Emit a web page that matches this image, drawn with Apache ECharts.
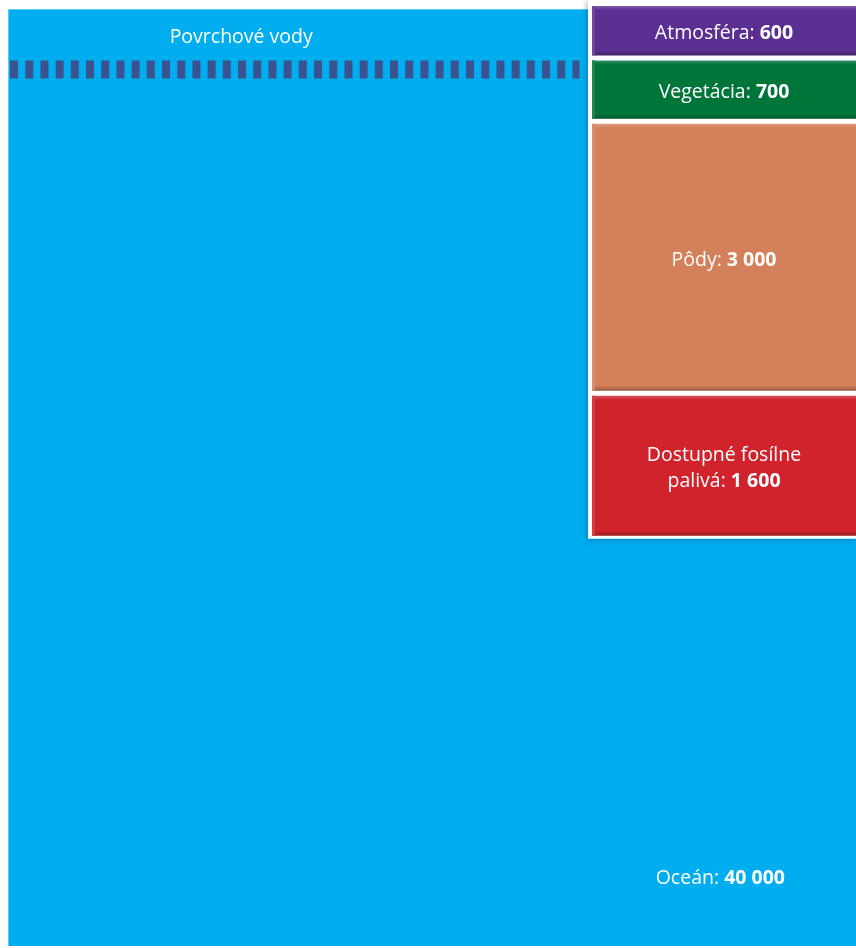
<!DOCTYPE html>
<html>
<head>
<meta charset="utf-8">
<script src="https://cdn.jsdelivr.net/npm/echarts@6/dist/echarts.min.js"></script>
<style>
  html, body { margin: 0; padding: 0; background: #ffffff; }
  #chart { width: 856px; height: 948px; }
</style>
</head>
<body>
<div id="chart"></div>
<script>
// Carbon stored in each reservoir (Gt C)
const reservoirNames = ['Atmosféra', 'Vegetácia', 'Pôdy', 'Dostupné fosílne\npalivá'];
const reservoirValues = [600, 700, 3000, 1600];
const reservoirColors = ['#5b2f91', '#00753a', '#d4805a', '#d0232b'];

const oceanName = 'Oceán';
const oceanValue = 40000;
const oceanColor = '#00aeef';

const surfaceName = 'Povrchové vody';
const surfaceColor = '#3b5291';

// Layout of the drawing in axis units
const X_MAX = 100;
const Y_MAX = 10370;        // vertical extent in Gt C
const COLUMN_X = 68.87;     // left edge of the reservoir column
const GAP = 5;              // white gap between stacked boxes (px)
const FONT = '"Open Sans", "Noto Sans", sans-serif';
const FONT_SIZE = 19.5;

function fmt(v) {
  return String(v).replace(/\B(?=(\d{3})+(?!\d))/g, ' ');
}

function mix(hex, target, t) {
  const a = parseInt(hex.slice(1), 16);
  const b = parseInt(target.slice(1), 16);
  const ch = (n, s) => (n >> s) & 255;
  const r = [16, 8, 0].map(s => Math.round(ch(a, s) + (ch(b, s) - ch(a, s)) * t));
  return 'rgb(' + r.join(',') + ')';
}

const richText = {
  n: { fontFamily: FONT, fontSize: FONT_SIZE, fontWeight: 'normal', fill: '#ffffff', lineHeight: 26 },
  v: { fontFamily: FONT, fontSize: FONT_SIZE, fontWeight: 'bold', fill: '#ffffff', lineHeight: 26 }
};

function labelRich(name, value) {
  const lines = name.split('\n');
  const last = lines.pop();
  const head = lines.map(l => '{n|' + l + '}').join('\n');
  return (head ? head + '\n' : '') + '{n|' + last + ': }{v|' + fmt(value) + '}';
}

// Stacked intervals, top to bottom
const stackData = [];
let acc = 0;
reservoirValues.forEach((v, i) => {
  stackData.push([acc, acc + v, i]);
  acc += v;
});
const stackTotal = acc;

function renderOcean(params, api) {
  const tl = api.coord([0, 0]);
  const br = api.coord([X_MAX, Y_MAX]);
  const label = api.coord([84, 9630]);
  return {
    type: 'group',
    children: [
      {
        type: 'rect',
        shape: { x: tl[0], y: tl[1] + 3, width: br[0] - tl[0], height: br[1] - tl[1] - 3 },
        style: { fill: oceanColor }
      },
      {
        type: 'rect',
        shape: { x: tl[0], y: tl[1] + 3, width: br[0] - tl[0], height: 1 },
        style: { fill: '#5ccbf3' }
      },
      {
        type: 'rect',
        shape: { x: tl[0], y: tl[1] + 3, width: 1, height: br[1] - tl[1] - 3 },
        style: { fill: '#5ccbf3' }
      },
      {
        type: 'text',
        x: label[0], y: label[1],
        style: {
          text: labelRich(oceanName, api.value(0)),
          rich: richText,
          align: 'center', verticalAlign: 'middle'
        }
      }
    ]
  };
}

function renderSurface(params, api) {
  const a = api.coord([0.24, 700]);
  const b = api.coord([67.4, 700]);
  const t = api.coord([27.5, 350]);
  return {
    type: 'group',
    children: [
      {
        type: 'line',
        shape: { x1: a[0], y1: a[1], x2: b[0], y2: b[1] },
        style: { stroke: surfaceColor, lineWidth: 18, lineDash: [8, 7.2] }
      },
      {
        type: 'text',
        x: t[0], y: t[1],
        style: {
          text: surfaceName,
          fontFamily: FONT, fontSize: FONT_SIZE, fill: '#ffffff',
          align: 'center', verticalAlign: 'middle'
        }
      }
    ]
  };
}

function renderColumnBack(params, api) {
  const tl = api.coord([COLUMN_X, 0]);
  const br = api.coord([X_MAX, api.value(0)]);
  return {
    type: 'rect',
    shape: { x: tl[0] - 4, y: 0, width: br[0] - tl[0] + 4, height: br[1] - 2 },
    style: {
      fill: '#ffffff',
      shadowBlur: 6, shadowColor: 'rgba(0, 40, 90, 0.35)', shadowOffsetX: -1, shadowOffsetY: 1
    }
  };
}

function renderBox(params, api) {
  const i = api.value(2);
  const p0 = api.coord([COLUMN_X, api.value(0)]);
  const p1 = api.coord([X_MAX, api.value(1)]);
  const x = p0[0], y = p0[1];
  const w = p1[0] - p0[0];
  const h = p1[1] - p0[1] - GAP;
  const base = reservoirColors[i];
  const top = 4 / h, bottom = 5 / h;
  return {
    type: 'group',
    children: [
      {
        type: 'rect',
        shape: { x: x, y: y, width: w, height: h },
        style: {
          fill: new echarts.graphic.LinearGradient(0, 0, 0, 1, [
            { offset: 0, color: mix(base, '#ffffff', 0.22) },
            { offset: top, color: base },
            { offset: 1 - bottom, color: base },
            { offset: 1, color: mix(base, '#000000', 0.3) }
          ])
        }
      },
      {
        type: 'rect',
        shape: { x: x, y: y, width: 3, height: h },
        style: { fill: mix(base, '#ffffff', 0.12) }
      },
      {
        type: 'text',
        x: x + w / 2, y: y + h / 2 + 3,
        style: {
          text: labelRich(reservoirNames[i], reservoirValues[i]),
          rich: richText,
          align: 'center', verticalAlign: 'middle'
        }
      }
    ]
  };
}

const chart = echarts.init(document.getElementById('chart'), null, { renderer: 'canvas' });
chart.setOption({
  animation: false,
  backgroundColor: '#ffffff',
  grid: { left: 8, right: 0, top: 6, bottom: 2 },
  xAxis: { type: 'value', min: 0, max: X_MAX, show: false },
  yAxis: { type: 'value', min: 0, max: Y_MAX, inverse: true, show: false },
  series: [
    {
      type: 'custom', name: oceanName, renderItem: renderOcean,
      data: [[oceanValue]], z: 1, silent: true
    },
    {
      type: 'custom', name: surfaceName, renderItem: renderSurface,
      data: [[0]], z: 2, silent: true
    },
    {
      type: 'custom', name: 'column', renderItem: renderColumnBack,
      data: [[stackTotal]], z: 3, silent: true
    },
    {
      type: 'custom', name: 'reservoirs', renderItem: renderBox,
      data: stackData, z: 4, silent: true
    }
  ]
});
</script>
</body>
</html>
